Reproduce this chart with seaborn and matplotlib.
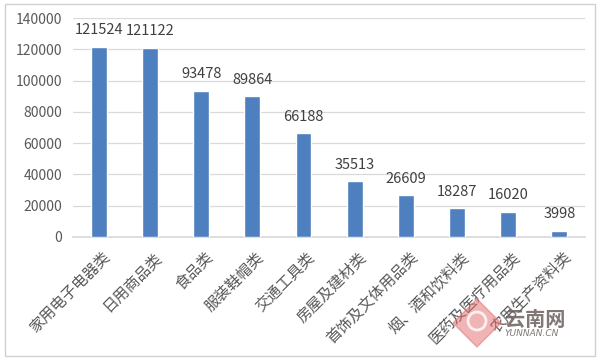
import matplotlib
matplotlib.use("Agg")
import matplotlib.pyplot as plt
import matplotlib.patches as mpatches
import matplotlib.transforms as mtransforms
import seaborn as sns
import pandas as pd

categories = ["家用电子电器类", "日用商品类", "食品类", "服装鞋帽类", "交通工具类",
              "房屋及建材类", "首饰及文体用品类", "烟、酒和饮料类", "医药及医疗用品类", "农用生产资料类"]
values = [121524, 121122, 93478, 89864, 66188, 35513, 26609, 18287, 16020, 3998]
yticks = [0, 20000, 40000, 60000, 80000, 100000, 120000, 140000]

sns.set_theme(style="white")
plt.rcParams["font.family"] = ["Noto Sans CJK SC", "DejaVu Sans"]

df = pd.DataFrame({"category": categories, "value": values})

fig = plt.figure(figsize=(6, 3.6), dpi=100)
ax = fig.add_axes([0.122, 0.342, 0.853, 0.608])

sns.barplot(data=df, x="category", y="value", color="#4e7fbf", width=0.31,
            saturation=1, ax=ax, zorder=3)

ax.set_ylim(0, 140000)
ax.set_yticks(yticks)
ax.set_yticklabels([str(t) for t in yticks], fontsize=10, color="#595959")
ax.yaxis.grid(True, color="#d9d9d9", linewidth=0.9, zorder=0)
ax.set_xlabel("")
ax.set_ylabel("")
for s in ["left", "right", "top"]:
    ax.spines[s].set_visible(False)
ax.spines["bottom"].set_color("#d9d9d9")
ax.tick_params(axis="y", length=0, pad=8)
ax.tick_params(axis="x", length=0, pad=8.5)
ax.set_xticks(range(len(categories)))
ax.set_xticklabels(categories, rotation=45, ha="right", rotation_mode="anchor",
                   fontsize=11, color="#595959")
shift = mtransforms.ScaledTranslation(3 / 100, 0, fig.dpi_scale_trans)
for lbl in ax.get_xticklabels():
    lbl.set_transform(lbl.get_transform() + shift)

# value labels above the bars
for i, v in enumerate(values):
    ax.annotate(str(v), (i, v), xytext=(0, 7), textcoords="offset points",
                ha="center", va="bottom", fontsize=10.5, color="#404040", zorder=4)

# outer frame
fig.patches.append(mpatches.Rectangle((0.008, 0.012), 0.984, 0.976, transform=fig.transFigure,
                                      fill=False, edgecolor="#d0d0d0", linewidth=1))

# site logo (pixel coordinates)
px = mtransforms.IdentityTransform()
fig.patches.append(mpatches.RegularPolygon((477, 37), numVertices=4, radius=24,
                                           transform=px, color="#e36b6b",
                                           alpha=0.5, zorder=5))
fig.patches.append(mpatches.Circle((477, 39), radius=9, transform=px, fill=False,
                                   edgecolor="white", linewidth=2, alpha=0.8, zorder=6))
fig.text(505 / 600, 40 / 360, "云南网", fontsize=14.5, fontweight="bold", color="#6b5f5f",
         alpha=0.85, ha="left", va="center")
fig.text(504 / 600, 27 / 360, "YUNNAN.CN", fontsize=6.5, style="italic", color="#6b5f5f",
         alpha=0.85, ha="left", va="center", family="DejaVu Sans")

fig.savefig("out.png", dpi=100)
